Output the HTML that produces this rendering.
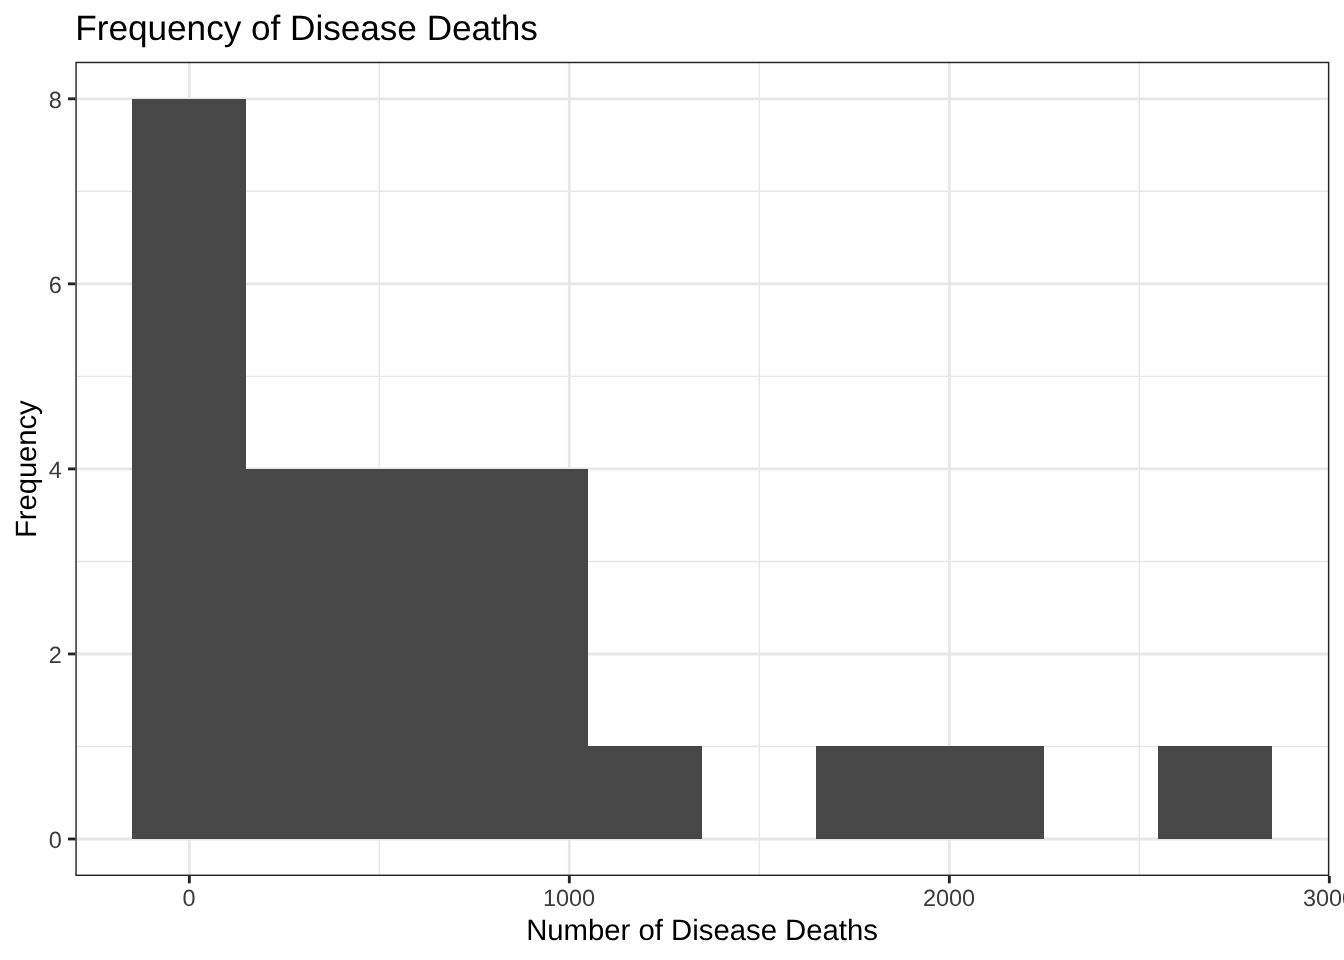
<!DOCTYPE html>
<html lang="en"><head><meta charset="utf-8"><title>Frequency of Disease Deaths</title>
<style>html,body{margin:0;padding:0;background:#fff;}body{width:1344px;height:960px;overflow:hidden;}svg{display:block;}text{font-family:"Liberation Sans",Arial,Helvetica,sans-serif;text-rendering:geometricPrecision;}</style></head><body>
<svg width="1344" height="960" viewBox="0 0 1344 960">
<rect x="0" y="0" width="1344" height="960" fill="#ffffff"/>
<clipPath id="p"><rect x="75.33" y="61.8" width="1254.0" height="814.2"/></clipPath>
<g clip-path="url(#p)">
<line x1="75.33" x2="1329.33" y1="746.47" y2="746.47" stroke="#e7e7e7" stroke-width="1.425"/>
<line x1="75.33" x2="1329.33" y1="561.42" y2="561.42" stroke="#e7e7e7" stroke-width="1.425"/>
<line x1="75.33" x2="1329.33" y1="376.38" y2="376.38" stroke="#e7e7e7" stroke-width="1.425"/>
<line x1="75.33" x2="1329.33" y1="191.33" y2="191.33" stroke="#e7e7e7" stroke-width="1.425"/>
<line y1="61.8" y2="876.0" x1="379.33" x2="379.33" stroke="#e7e7e7" stroke-width="1.425"/>
<line y1="61.8" y2="876.0" x1="759.33" x2="759.33" stroke="#e7e7e7" stroke-width="1.425"/>
<line y1="61.8" y2="876.0" x1="1139.33" x2="1139.33" stroke="#e7e7e7" stroke-width="1.425"/>
<line x1="75.33" x2="1329.33" y1="838.99" y2="838.99" stroke="#e7e7e7" stroke-width="2.85"/>
<line x1="75.33" x2="1329.33" y1="653.95" y2="653.95" stroke="#e7e7e7" stroke-width="2.85"/>
<line x1="75.33" x2="1329.33" y1="468.90" y2="468.90" stroke="#e7e7e7" stroke-width="2.85"/>
<line x1="75.33" x2="1329.33" y1="283.85" y2="283.85" stroke="#e7e7e7" stroke-width="2.85"/>
<line x1="75.33" x2="1329.33" y1="98.81" y2="98.81" stroke="#e7e7e7" stroke-width="2.85"/>
<line y1="61.8" y2="876.0" x1="189.33" x2="189.33" stroke="#e7e7e7" stroke-width="2.85"/>
<line y1="61.8" y2="876.0" x1="569.33" x2="569.33" stroke="#e7e7e7" stroke-width="2.85"/>
<line y1="61.8" y2="876.0" x1="949.33" x2="949.33" stroke="#e7e7e7" stroke-width="2.85"/>
<line y1="61.8" y2="876.0" x1="1329.33" x2="1329.33" stroke="#e7e7e7" stroke-width="2.85"/>
<path d="M132.00 839.00 L132.00 99.00 L246.00 99.00 L246.00 469.00 L588.00 469.00 L588.00 746.00 L702.00 746.00 L702.00 839.00 Z M816.00 746.00 L1044.00 746.00 L1044.00 839.00 L816.00 839.00 Z M1158.00 746.00 L1272.00 746.00 L1272.00 839.00 L1158.00 839.00 Z" fill="#474747" shape-rendering="crispEdges"/>
<rect x="75.33" y="61.8" width="1254.0" height="814.2" fill="none" stroke="#242424" stroke-width="2.85"/>
</g>
<line x1="68.00" x2="75.33" y1="838.99" y2="838.99" stroke="#242424" stroke-width="2.85"/>
<line x1="68.00" x2="75.33" y1="653.95" y2="653.95" stroke="#242424" stroke-width="2.85"/>
<line x1="68.00" x2="75.33" y1="468.90" y2="468.90" stroke="#242424" stroke-width="2.85"/>
<line x1="68.00" x2="75.33" y1="283.85" y2="283.85" stroke="#242424" stroke-width="2.85"/>
<line x1="68.00" x2="75.33" y1="98.81" y2="98.81" stroke="#242424" stroke-width="2.85"/>
<line y1="876.0" y2="883.33" x1="189.33" x2="189.33" stroke="#242424" stroke-width="2.85"/>
<line y1="876.0" y2="883.33" x1="569.33" x2="569.33" stroke="#242424" stroke-width="2.85"/>
<line y1="876.0" y2="883.33" x1="949.33" x2="949.33" stroke="#242424" stroke-width="2.85"/>
<line y1="876.0" y2="883.33" x1="1329.33" x2="1329.33" stroke="#242424" stroke-width="2.85"/>
<text x="61.83" y="847.79" font-size="23.47" fill="#3b3b3b" text-anchor="end">0</text>
<text x="61.83" y="662.75" font-size="23.47" fill="#3b3b3b" text-anchor="end">2</text>
<text x="61.83" y="477.70" font-size="23.47" fill="#3b3b3b" text-anchor="end">4</text>
<text x="61.83" y="292.65" font-size="23.47" fill="#3b3b3b" text-anchor="end">6</text>
<text x="61.83" y="107.61" font-size="23.47" fill="#3b3b3b" text-anchor="end">8</text>
<text x="189.03" y="905.9" font-size="23.47" fill="#3b3b3b" text-anchor="middle">0</text>
<text x="569.03" y="905.9" font-size="23.47" fill="#3b3b3b" text-anchor="middle">1000</text>
<text x="949.03" y="905.9" font-size="23.47" fill="#3b3b3b" text-anchor="middle">2000</text>
<text x="1329.03" y="905.9" font-size="23.47" fill="#3b3b3b" text-anchor="middle">3000</text>
<text x="75.33" y="39.8" font-size="35.2" fill="#000" letter-spacing="-0.035">Frequency of Disease Deaths</text>
<text x="702.03" y="940.0" font-size="29.33" fill="#000" text-anchor="middle" letter-spacing="-0.013">Number of Disease Deaths</text>
<text transform="translate(35.67,469.20) rotate(-90)" font-size="29.33" fill="#000" text-anchor="middle" letter-spacing="-0.1">Frequency</text>
</svg></body></html>
